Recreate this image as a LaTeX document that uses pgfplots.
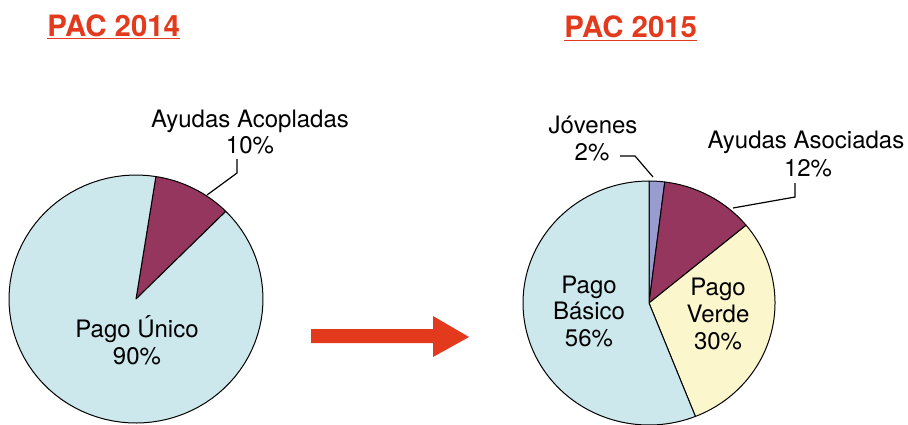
\documentclass[border=0pt]{standalone}
\usepackage{pgfplots}
\pgfplotsset{compat=1.18}
\usepackage{fontspec}
\setmainfont{TeX Gyre Heros}
\definecolor{cblue}{HTML}{CCE8EC}
\definecolor{cmaroon}{HTML}{95365F}
\definecolor{cyellow}{HTML}{FBF6CC}
\definecolor{clav}{HTML}{9A9CCF}
\definecolor{cred}{HTML}{E3391D}
\tikzset{lbl/.style={anchor=base, inner sep=0pt, font=\fontsize{12}{13.5}\selectfont},
  ttl/.style={anchor=base west, inner sep=0pt, text=cred, font=\fontsize{14.7}{16}\selectfont\bfseries}}
% wedge: cx, cy, rx, ry, offset (deg clockwise from top), start pct, pct, colour
\newcommand{\piewedge}[8]{%
  \addplot[draw=black, line width=0.5pt, line join=round, fill=#8,
    domain=90-#5-3.6*(#6+#7):90-#5-3.6*(#6), samples=90, variable=\t]
    ({#1+#3*cos(\t)},{#2-#4*sin(\t)}) -- (axis cs:#1,#2) -- cycle;
}
\begin{document}
\begin{tikzpicture}
\useasboundingbox (0,0) rectangle (454pt,212pt);
\begin{axis}[
  at={(0,0)}, anchor=south west,
  width=454pt, height=212pt, scale only axis,
  xmin=0, xmax=908, ymin=0, ymax=424, y dir=reverse,
  hide axis, clip=true,
]
% PAC 2014: Ayudas Acopladas 10, Pago Unico 90 (offset 9 deg)
\piewedge{136}{299}{127}{124}{9}{0}{10}{cmaroon}
\piewedge{136}{299}{127}{124}{9}{10}{90}{cblue}
% PAC 2015: Jovenes 2, Ayudas Asociadas 12, Pago Verde 30, Pago Basico 56
\piewedge{649}{303}{126}{122}{0}{0}{2}{clav}
\piewedge{649}{303}{126}{122}{0}{2}{12}{cmaroon}
\piewedge{649}{303}{126}{122}{0}{14}{30}{cyellow}
\piewedge{649}{303}{126}{122}{0}{44}{56}{cblue}

% titles
\node[ttl] (t1) at (axis cs:47,36) {PAC 2014};
\draw[cred, line width=0.8pt] ([yshift=-1.3pt]t1.base west) -- ([yshift=-1.3pt]t1.base east);
\node[ttl] (t2) at (axis cs:564,37.5) {PAC 2015};
\draw[cred, line width=0.8pt] ([yshift=-1.5pt]t2.base west) -- ([yshift=-1.5pt]t2.base east);

% arrow
\fill[cred] (axis cs:311,329) -- (axis cs:433,329) -- (axis cs:433,316) -- (axis cs:469,337)
  -- (axis cs:433,357) -- (axis cs:433,343) -- (axis cs:311,343) -- cycle;

% labels, left pie
\node[lbl] at (axis cs:250,127) {Ayudas Acopladas};
\node[lbl] at (axis cs:250,153) {10\%};
\draw[line width=0.6pt] (axis cs:207,195) -- (axis cs:237,173) -- (axis cs:237,159);
\node[lbl] at (axis cs:137,337) {Pago Único};
\node[lbl] at (axis cs:137,364) {90\%};

% labels, right pie
\node[lbl] at (axis cs:593,133) {Jóvenes};
\node[lbl] at (axis cs:592,160) {2\%};
\draw[line width=0.6pt] (axis cs:620,156) -- (axis cs:635,156) -- (axis cs:653,177);
\node[lbl] at (axis cs:806,148) {Ayudas Asociadas};
\node[lbl] at (axis cs:808,176) {12\%};
\draw[line width=0.6pt] (axis cs:733,208) -- (axis cs:795,197) -- (axis cs:795,183);
\node[lbl] at (axis cs:589,293) {Pago};
\node[lbl] at (axis cs:589,319) {Básico};
\node[lbl] at (axis cs:589,346) {56\%};
\node[lbl] at (axis cs:718,295) {Pago};
\node[lbl] at (axis cs:718,322) {Verde};
\node[lbl] at (axis cs:718,349) {30\%};
\end{axis}
\end{tikzpicture}
\end{document}
